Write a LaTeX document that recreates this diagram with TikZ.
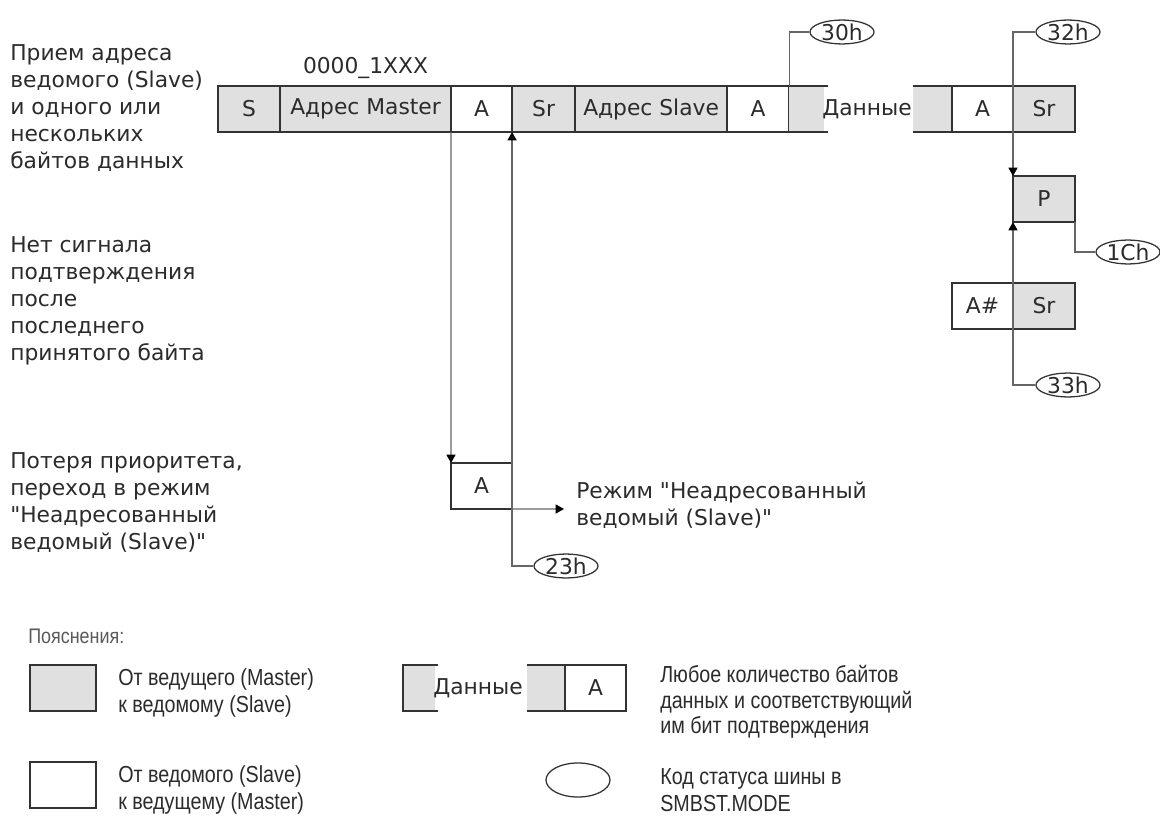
\documentclass[tikz,border=0pt]{standalone}
\usepackage{fontspec}
\setmainfont{DejaVu Sans}[Ligatures=TeXOff]
\newfontfamily\legendfont[FakeStretch=0.85]{Liberation Sans}
\usetikzlibrary{positioning, shapes.geometric, arrows.meta}
\definecolor{masterfill}{HTML}{E0E0E0}
\definecolor{edgecol}{HTML}{333333}
\definecolor{conncol}{HTML}{666666}
\definecolor{txtcol}{HTML}{2B2B2B}
\newcommand\mainsize{\fontsize{15.5pt}{19.2pt}\selectfont}
\newcommand\legendsize{\legendfont\fontsize{16.5pt}{19.2pt}\selectfont}
\tikzset{
  cell/.style={rectangle, draw=edgecol, line width=1.4pt, minimum height=1.15cm, outer sep=0pt, inner sep=0pt, font=\mainsize, text=txtcol},
  mcell/.style={cell, fill=masterfill},
  scell/.style={cell, fill=white},
  gapfill/.style={rectangle, fill=masterfill, minimum height=1.15cm, outer sep=0pt, inner sep=0pt},
  gapline/.style={draw=edgecol, line width=1.4pt},
  status/.style={ellipse, draw=edgecol, line width=0.9pt, minimum width=1.6cm, minimum height=0.56cm, inner sep=0pt, font=\mainsize, text=txtcol},
  conn/.style={draw=conncol, line width=0.9pt},
  arrow/.style={conn, -{Triangle[length=6pt, width=6.5pt, color=black]}},
  note/.style={align=left, font=\mainsize, text=txtcol, inner sep=0pt},
  legend/.style={align=left, font=\legendsize, text=txtcol, inner sep=0pt}
}
\begin{document}
\begin{tikzpicture}[x=0.025cm, y=-0.025cm]
    \useasboundingbox (0,0) rectangle (1160,821);

    % Верхняя строка - кадр
    \node (s) [mcell, minimum width=1.55cm, anchor=west] at (218,109) {S};
    \node (amaster) [mcell, minimum width=4.275cm, right=0pt of s] {Адрес Master};
    \node (ack1) [scell, minimum width=1.525cm, right=0pt of amaster] {A};
    \node (sr1) [mcell, minimum width=1.575cm, right=0pt of ack1] {Sr};
    \node (aslave) [mcell, minimum width=3.8cm, right=0pt of sr1] {Адрес Slave};
    \node (ack2) [scell, minimum width=1.55cm, right=0pt of aslave] {A};
    \node (gap1) [gapfill, minimum width=0.875cm, right=0pt of ack2] {};
    \node (data) [font=\mainsize, text=txtcol] at (867,109) {Данные};
    \node (gap2) [gapfill, minimum width=0.975cm, anchor=west] at (913,109) {};
    \node (ack3) [scell, minimum width=1.525cm, right=0pt of gap2] {A};
    \node (sr2) [mcell, minimum width=1.55cm, right=0pt of ack3] {Sr};
    \draw [gapline] (gap1.north west) -- ++(39,0);
    \draw [gapline] (gap1.south west) -- ++(39,0);
    \draw [gapline] (gap2.north west) -- (ack3.north west);
    \draw [gapline] (gap2.south west) -- (ack3.south west);
    \node (mbits) [font=\mainsize, text=txtcol, above=0.05cm of amaster] {0000\_1XXX};

    % Правая колонка - стоп и повторный старт
    \node (stop) [mcell, minimum width=1.55cm] at (1044,199) {P};
    \node (nack) [scell, minimum width=1.525cm] at (982.5,306) {A\#};
    \node (sr3) [mcell, minimum width=1.55cm, right=0pt of nack] {Sr};

    % Потеря приоритета
    \node (alost) [scell, minimum width=1.525cm] at (481.5,486) {A};
    \node (modetxt) [note, anchor=west] at (576,505) {Режим "Неадресованный\\ведомый (Slave)"};
    \coordinate (modein) at (564,509);

    % Коды статуса
    \node (st30) [status] at (842,32) {30h};
    \node (st32) [status] at (1068,32) {32h};
    \node (st1c) [status] at (1128,252) {1Ch};
    \node (st33) [status] at (1068,385) {33h};
    \node (st23) [status] at (566,566) {23h};

    % Связи
    \draw [conn] (ack2.north east) |- (st30.west);
    \draw [arrow] (st32.west) -| (stop.north west);
    \draw [conn] (stop.south east) |- (st1c.west);
    \draw [arrow] (st33.west) -| (stop.south west);
    \draw [arrow] (amaster.south east) -- (alost.north west);
    \draw [arrow] (st23.west) -| (ack1.south east);
    \draw [arrow] (alost.south east) -- (modein);

    % Пояснения слева
    \node (recv) [note, anchor=west] at (10,108.5) {Прием адреса\\ведомого (Slave)\\и одного или\\нескольких\\байтов данных};
    \node (noack) [note, anchor=west] at (10,301) {Нет сигнала\\подтверждения\\после\\последнего\\принятого байта};
    \node (lost) [note, anchor=west] at (10,503) {Потеря приоритета,\\переход в режим\\"Неадресованный\\ведомый (Slave)"};

    % Легенда
    \node (expl) [legend, anchor=west, font=\legendfont\fontsize{15pt}{16pt}\selectfont, text=black!65] at (28,636) {Пояснения:};
    \node (lmaster) [mcell, minimum width=1.65cm] at (63,688) {};
    \node (lmastertxt) [legend, anchor=west] at (118,693) {От ведущего (Master)\\к ведомому (Slave)};
    \node (lslave) [scell, minimum width=1.65cm] at (63,785) {};
    \node (lslavetxt) [legend, anchor=west] at (118,790) {От ведомого (Slave)\\к ведущему (Master)};

    \node (lgap1) [gapfill, minimum width=0.8cm, anchor=west] at (403,688) {};
    \draw [gapline] (lgap1.north west) ++(35,0) -- (lgap1.north west) -- (lgap1.south west) -- ++(35,0);
    \node (ldata) [font=\mainsize, text=txtcol] at (478,688) {Данные};
    \node (lgap2) [gapfill, minimum width=0.95cm, anchor=west] at (527,688) {};
    \node (lack) [scell, minimum width=1.525cm, right=0pt of lgap2] {A};
    \draw [gapline] (lgap2.north west) -- (lack.north west);
    \draw [gapline] (lgap2.south west) -- (lack.south west);
    \node (lanytxt) [legend, anchor=west, font=\legendfont\fontsize{16.5pt}{18.2pt}\selectfont] at (660,702) {Любое количество байтов\\данных и соответствующий\\им бит подтверждения};

    \node (lstatus) [status, minimum width=1.6cm, minimum height=0.85cm] at (578,780) {};
    \node (lstatustxt) [legend, anchor=west] at (660,790) {Код статуса шины в\\SMBST.MODE};

\end{tikzpicture}
\end{document}
